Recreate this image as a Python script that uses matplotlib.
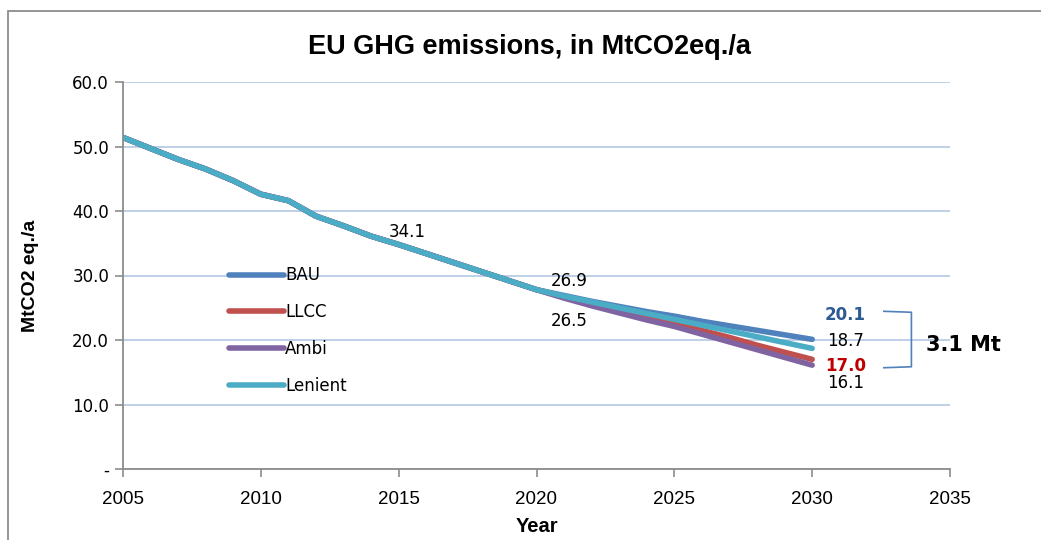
import matplotlib
matplotlib.use("Agg")
import matplotlib.pyplot as plt
from matplotlib.patches import Rectangle

# data
years = list(range(2005, 2031))
common = [51.4, 49.7, 48.0, 46.5, 44.7, 42.6, 41.6, 39.2, 37.7, 36.1,
          34.8, 33.4, 32.0, 30.6, 29.2]
bau = common + [27.8, 26.9, 26.0, 25.2, 24.4, 23.7, 22.9, 22.2, 21.5, 20.8, 20.1]
llcc = common + [27.8, 26.7, 25.6, 24.6, 23.6, 22.6, 21.5, 20.4, 19.2, 18.1, 17.0]
ambi = common + [27.8, 26.5, 25.3, 24.2, 23.1, 22.1, 20.9, 19.7, 18.5, 17.3, 16.1]
lenient = common + [27.8, 26.8, 25.9, 25.0, 24.1, 23.2, 22.3, 21.4, 20.5, 19.6, 18.7]

series_names = ['BAU', 'LLCC', 'Ambi', 'Lenient']
series_colors = ['#4F81BD', '#C0504D', '#8064A2', '#4BACC6']
y_ticks = [0, 10, 20, 30, 40, 50, 60]
y_tick_labels = ['-', '10.0', '20.0', '30.0', '40.0', '50.0', '60.0']
x_ticks = [2005, 2010, 2015, 2020, 2025, 2030, 2035]

fig = plt.figure(figsize=(10.41, 5.4), dpi=100)
ax = fig.add_axes([123/1041, 1-469/540, 827/1041, 387/540])

# outer chart frame
fig.patches.append(Rectangle((8/1041, -0.05), 1.1, 1-11/540+0.05, transform=fig.transFigure,
                             fill=False, ec='#8c8c8c', lw=1.3))

for vals, name, col in zip([bau, llcc, ambi, lenient], series_names, series_colors):
    ax.plot(years, vals, color=col, lw=4.0, label=name,
            solid_capstyle='round', solid_joinstyle='round')

ax.set_xlim(2005, 2035)
ax.set_ylim(0, 60)
ax.set_yticks(y_ticks)
ax.set_yticklabels(y_tick_labels, fontfamily='DejaVu Sans', fontsize=12)
ax.set_xticks(x_ticks)
ax.set_xticklabels([str(x) for x in x_ticks], fontfamily='Liberation Sans', fontsize=13.5)
ax.yaxis.grid(True, color='#B9CDE5', lw=1.3)
ax.set_axisbelow(True)
for s in ['top', 'right']:
    ax.spines[s].set_visible(False)
for s in ['left', 'bottom']:
    ax.spines[s].set_color('#8c8c8c')
    ax.spines[s].set_linewidth(1.3)
ax.tick_params(axis='both', direction='out', length=6, width=1.2, color='#8c8c8c', pad=4)
ax.tick_params(axis='x', pad=10)

ax.set_ylabel('MtCO2 eq./a', fontfamily='Liberation Sans', fontweight='bold', fontsize=14, labelpad=24)
ax.set_xlabel('Year', fontfamily='Liberation Sans', fontweight='bold', fontsize=14.5, labelpad=6)
fig.text(0.509, 1-47/540, 'EU GHG emissions, in MtCO2eq./a', ha='center', va='center',
         fontfamily='Liberation Sans', fontweight='bold', fontsize=19.5)

leg = ax.legend(loc='upper left', bbox_to_anchor=(221/1041, 1-258/540),
                bbox_transform=fig.transFigure, frameon=False, borderpad=0,
                handlelength=3.25, handletextpad=0.1, labelspacing=1.13,
                prop={'family': 'DejaVu Sans', 'size': 12})

# value labels
lab = dict(fontfamily='DejaVu Sans', fontsize=12, ha='center', va='center')
ax.text(2015.3, 36.7, '34.1', **lab)
ax.text(2021.2, 29.1, '26.9', **lab)
ax.text(2021.2, 22.9, '26.5', **lab)
ax.text(2031.2, 23.8, '20.1', color='#2E5A94', fontweight='bold', **lab)
ax.text(2031.2, 19.8, '18.7', **lab)
ax.text(2031.2, 15.9, '17.0', color='#C00000', fontweight='bold', **lab)
ax.text(2031.2, 13.4, '16.1', **lab)
ax.text(2035.5, 19.2, '3.1 Mt', fontfamily='DejaVu Sans', fontsize=15, fontweight='bold',
        ha='center', va='center')

# bracket between BAU and LLCC
ax.plot([2032.6, 2033.6, 2033.6, 2032.6], [24.45, 24.3, 15.85, 15.7],
        color='#4F81BD', lw=1.2, clip_on=False)

fig.savefig('out.png', dpi=100)
